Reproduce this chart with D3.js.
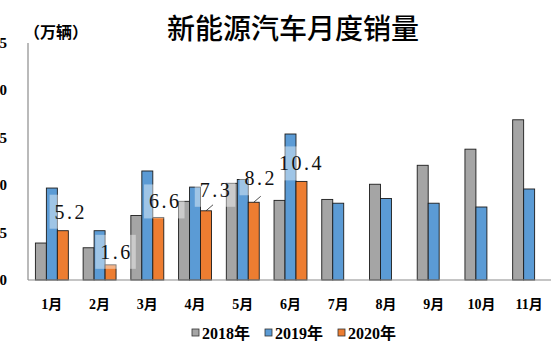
<!DOCTYPE html>
<html>
<head>
<meta charset="utf-8">
<script src="https://cdn.jsdelivr.net/npm/d3@7"></script>
<style>
  body { margin: 0; background: #fff; }
  svg { display: block; }
</style>
</head>
<body>
<svg id="drawing_region"></svg>
<script>
const months = [ '1月', '2月', '3月', '4月', '5月', '6月', '7月', '8月', '9月', '10月', '11月' ];
const seriesNames = [ '2018年', '2019年', '2020年' ];
const sales2018 = [ 3.9, 3.4, 6.8, 8.3, 10.2, 8.4, 8.5, 10.1, 12.1, 13.8, 16.9 ];
const sales2019 = [ 9.7, 5.2, 11.5, 9.8, 10.6, 15.4, 8.1, 8.6, 8.1, 7.7, 9.6 ];
const sales2020 = [ 5.2, 1.6, 6.6, 7.3, 8.2, 10.4 ];
const yTicks = [ 0, 5, 10, 15, 20, 25 ];

// label nudges for the 2020 values (dx, dy from bar top), leader = draw a line
const labelNudge = [
    { dx: 8, dy: -12 }, { dx: 6, dy: -6 }, { dx: 7, dy: -9 },
    { dx: 10, dy: -14, leader: true }, { dx: 7, dy: -17, leader: true }, { dx: 0, dy: -11 }
];

const colors = [ '#A5A5A5', '#5B9BD5', '#ED7D31' ];
const W = 551, H = 354;
const margin = { left: 28, top: 43, bottom: 74 };

const svg = d3.select( '#drawing_region' )
    .attr( 'width', W )
    .attr( 'height', H );

const xscale = d3.scaleBand()
    .domain( months )
    .range( [ margin.left, 553 ] )
    .paddingInner( 0.31 )
    .paddingOuter( 0.155 );

const xsub = d3.scaleBand()
    .domain( seriesNames )
    .range( [ 0, xscale.bandwidth() ] );

const yscale = d3.scaleLinear()
    .domain( [ 0, 25 ] )
    .range( [ H - margin.bottom, margin.top ] );

const rows = [];
[ sales2018, sales2019, sales2020 ].forEach( ( arr, si ) => {
    arr.forEach( ( v, i ) => rows.push( { month: months[i], series: seriesNames[si], si: si, i: i, value: v } ) );
} );

// title and unit
svg.append( 'text' )
    .attr( 'x', 293 ).attr( 'y', 39 )
    .attr( 'text-anchor', 'middle' )
    .style( 'font-family', '"Noto Sans CJK SC"' )
    .style( 'font-size', '28px' )
    .style( 'font-weight', 500 )
    .text( '新能源汽车月度销量' );

svg.append( 'text' )
    .attr( 'x', 24 ).attr( 'y', 38 )
    .style( 'font-family', '"Noto Sans CJK SC"' )
    .style( 'font-size', '16px' )
    .style( 'font-weight', 700 )
    .text( '（万辆）' );

// y tick labels (clipped by the window edge, as in the source)
svg.append( 'g' ).selectAll( 'text' )
    .data( yTicks )
    .join( 'text' )
    .attr( 'x', 7 )
    .attr( 'y', d => yscale( d ) + 5 )
    .attr( 'text-anchor', 'end' )
    .style( 'font-family', '"Liberation Serif"' )
    .style( 'font-size', '15px' )
    .style( 'font-weight', 700 )
    .text( d => d );

// bars
svg.append( 'g' ).selectAll( 'rect' )
    .data( rows )
    .join( 'rect' )
    .attr( 'x', d => xscale( d.month ) + xsub( d.series ) )
    .attr( 'y', d => yscale( d.value ) )
    .attr( 'width', xsub.bandwidth() )
    .attr( 'height', d => yscale( 0 ) - yscale( d.value ) )
    .attr( 'fill', d => colors[ d.si ] )
    .attr( 'stroke', '#1c1c1c' )
    .attr( 'stroke-width', 0.9 );

// axes lines
svg.append( 'line' )
    .attr( 'x1', margin.left ).attr( 'x2', margin.left )
    .attr( 'y1', yscale( 25 ) ).attr( 'y2', yscale( 0 ) )
    .attr( 'stroke', '#8c8c8c' ).attr( 'stroke-width', 1.2 );
svg.append( 'line' )
    .attr( 'x1', margin.left ).attr( 'x2', W )
    .attr( 'y1', yscale( 0 ) ).attr( 'y2', yscale( 0 ) )
    .attr( 'stroke', '#8c8c8c' ).attr( 'stroke-width', 1.2 );

// month labels
svg.append( 'g' ).selectAll( 'text' )
    .data( months )
    .join( 'text' )
    .attr( 'x', d => xscale( d ) + xscale.bandwidth() / 2 )
    .attr( 'y', 309 )
    .attr( 'text-anchor', 'middle' )
    .style( 'font-family', '"Liberation Serif", "Noto Sans CJK SC"' )
    .style( 'font-size', '14px' )
    .style( 'font-weight', 700 )
    .text( d => d );

// 2020 data labels
const lab = svg.append( 'g' );
sales2020.forEach( ( v, i ) => {
    const n = labelNudge[ i ];
    const cx = xscale( months[i] ) + xsub( seriesNames[2] ) + xsub.bandwidth() / 2;
    const top = yscale( v );
    const g = lab.append( 'g' );
    const box = g.append( 'rect' );
    const t = g.append( 'text' )
        .attr( 'x', cx + n.dx )
        .attr( 'y', top + n.dy )
        .attr( 'text-anchor', 'middle' )
        .style( 'font-family', '"Liberation Serif"' )
        .style( 'font-size', '20px' )
        .style( 'letter-spacing', '2.5px' )
        .attr( 'fill', '#111' )
        .text( v.toFixed( 1 ) );
    const bb = t.node().getBBox();
    box.attr( 'x', bb.x - 5 ).attr( 'y', bb.y - 6 )
        .attr( 'width', bb.width + 8 ).attr( 'height', bb.height + 12 )
        .attr( 'fill', '#fff' ).attr( 'opacity', 0.42 );
    if ( n.leader ) {
        g.append( 'line' )
            .attr( 'x1', cx ).attr( 'y1', top )
            .attr( 'x2', cx + 7 ).attr( 'y2', top - 6 )
            .attr( 'stroke', '#222' ).attr( 'stroke-width', 0.8 );
    }
} );

// legend
const legendX = [ 192, 265, 338 ];
const lg = svg.append( 'g' ).selectAll( 'g' )
    .data( seriesNames )
    .join( 'g' )
    .attr( 'transform', ( d, i ) => `translate(${legendX[i]}, 333)` );
lg.append( 'rect' )
    .attr( 'x', 0 ).attr( 'y', -4 )
    .attr( 'width', 7 ).attr( 'height', 7 )
    .attr( 'fill', ( d, i ) => colors[i] )
    .attr( 'stroke', '#333' ).attr( 'stroke-width', 0.8 );
lg.append( 'text' )
    .attr( 'x', 10 ).attr( 'y', 6 )
    .style( 'font-family', '"Liberation Serif", "Noto Sans CJK SC"' )
    .style( 'font-size', '16px' )
    .style( 'font-weight', 700 )
    .text( d => d );
</script>
</body>
</html>
